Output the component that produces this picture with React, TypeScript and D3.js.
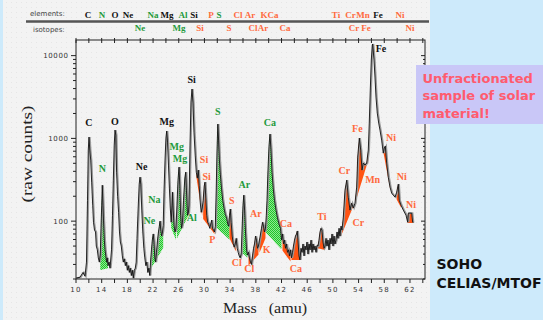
import React from 'react';
import * as d3 from 'd3';

// spectrum trace: mass (amu) and raw counts
const specMass = [
  10.0, 10.62, 11.09, 11.4, 11.63, 11.79, 11.91, 12.02, 12.15, 12.29, 12.44, 12.6, 12.72, 12.88, 13.04, 13.16, 13.32, 13.47, 13.63, 13.78,
  13.89, 14.0, 14.09, 14.2, 14.28, 14.41, 14.52, 14.62, 14.75, 14.86, 14.98, 15.14, 15.29, 15.37, 15.53, 15.68, 15.81, 15.95, 16.07, 16.2,
  16.32, 16.48, 16.63, 16.77, 16.9, 17.05, 17.21, 17.36, 17.52, 17.68, 17.83, 17.99, 18.14, 18.3, 18.45, 18.61, 18.77, 18.92, 19.08, 19.23,
  19.37, 19.5, 19.68, 19.84, 19.96, 20.09, 20.24, 20.4, 20.56, 20.71, 20.87, 21.02, 21.18, 21.33, 21.49, 21.6, 21.75, 21.88, 22.02, 22.14,
  22.27, 22.39, 22.53, 22.69, 22.84, 22.97, 23.08, 23.2, 23.33, 23.47, 23.58, 23.7, 23.86, 24.0, 24.12, 24.25, 24.4, 24.54, 24.68, 24.82,
  24.95, 25.02, 25.13, 25.26, 25.41, 25.57, 25.72, 25.88, 26.04, 26.16, 26.29, 26.43, 26.58, 26.74, 26.94, 27.08, 27.2, 27.36, 27.52, 27.59,
  27.75, 27.9, 28.06, 28.22, 28.37, 28.56, 28.73, 28.89, 29.04, 29.18, 29.34, 29.49, 29.65, 29.8, 29.96, 30.08, 30.21, 30.35, 30.5, 30.66,
  30.82, 30.97, 31.13, 31.25, 31.41, 31.56, 31.69, 31.83, 31.95, 32.08, 32.2, 32.33, 32.47, 32.65, 32.84, 33.04, 33.24, 33.45, 33.63, 33.79,
  33.9, 34.02, 34.16, 34.32, 34.47, 34.63, 34.79, 34.94, 35.1, 35.25, 35.41, 35.56, 35.72, 35.84, 36.0, 36.12, 36.25, 36.39, 36.55, 36.7,
  36.86, 37.01, 37.17, 37.32, 37.48, 37.64, 37.79, 37.95, 38.1, 38.26, 38.41, 38.57, 38.73, 38.88, 39.04, 39.19, 39.35, 39.5, 39.63, 39.74,
  39.89, 40.05, 40.2, 40.36, 40.52, 40.7, 40.9, 41.14, 41.37, 41.61, 41.84, 42.0, 42.15, 42.31, 42.46, 42.62, 42.77, 42.93, 43.09, 43.24,
  43.4, 43.55, 43.71, 43.86, 44.02, 44.17, 44.33, 44.45, 44.56, 44.72, 44.87, 45.03, 45.19, 45.34, 45.5, 45.65, 45.81, 45.96, 46.12, 46.28,
  46.43, 46.59, 46.74, 46.9, 47.05, 47.21, 47.37, 47.52, 47.68, 47.83, 47.99, 48.14, 48.3, 48.46, 48.61, 48.77, 48.92, 49.08, 49.23, 49.39,
  49.55, 49.7, 49.86, 50.01, 50.17, 50.32, 50.48, 50.64, 50.79, 50.95, 51.1, 51.26, 51.41, 51.62, 51.88, 52.15, 52.39, 52.66, 52.92, 53.17,
  53.44, 53.7, 53.86, 54.11, 54.33, 54.53, 54.73, 55.0, 55.26, 55.51, 55.66, 55.82, 55.98, 56.13, 56.19, 56.4, 56.55, 56.71, 56.91, 57.13,
  57.33, 57.59, 57.84, 58.0, 58.16, 58.37, 58.62, 58.89, 59.15, 59.4, 59.67, 59.93, 60.18, 60.33, 60.6, 60.96, 61.38, 61.64, 61.74, 61.89,
  62.27, 62.42, 62.51,
];
const specCounts = [
  20.5, 21, 24, 21.6, 32, 179, 722, 1037, 722, 547, 296, 156, 97, 78, 74, 50, 45, 36, 32, 39,
  82, 156, 272, 156, 103, 59, 45, 39, 32, 36, 29, 32, 27, 32, 45, 118, 313, 830, 1260, 1096,
  391, 200, 128, 74, 56, 50, 38, 32, 35, 29, 32, 25.5, 29, 24, 27, 22, 25.5, 20.5, 25.5, 27,
  32, 62, 144, 280, 340, 280, 136, 74, 47, 36, 29, 32, 24, 27, 22, 32, 45, 59, 70, 56,
  36, 32, 42, 59, 74, 87, 100, 78, 66, 74, 89, 224, 547, 1008, 1226, 902, 476, 251, 144, 97,
  156, 224, 136, 89, 74, 82, 156, 313, 450, 272, 118, 82, 97, 179, 331, 391, 237, 118, 128, 156,
  830, 2748, 3946, 2673, 1190, 628, 391, 331, 414, 272, 170, 128, 144, 179, 265, 296, 190, 118, 97, 92,
  82, 92, 103, 82, 78, 74, 87, 237, 683, 1489, 954, 547, 370, 251, 179, 144, 121, 109, 92, 87,
  118, 140, 97, 66, 54, 48.5, 53, 62, 47, 42, 38, 36, 40, 74, 156, 206, 136, 74, 45, 39,
  42, 36, 32, 30, 38, 47, 53, 66, 59, 47, 50, 59, 70, 82, 97, 87, 74, 82, 118, 179,
  414, 807, 1127, 722, 391, 251, 179, 136, 109, 92, 82, 59, 70, 53, 59, 47, 53, 42, 45, 38,
  45, 36, 42, 50, 59, 66, 70, 76, 59, 38, 34, 47, 42, 53, 38, 50, 45, 56, 40, 53,
  45, 59, 42, 53, 45, 50, 42, 51, 50, 59, 74, 82, 78, 56, 47, 50, 62, 50, 59, 45,
  62, 53, 70, 50, 66, 53, 59, 74, 62, 82, 66, 87, 78, 112, 237, 313, 195, 136, 165, 144,
  165, 258, 594, 1008, 722, 414, 503, 476, 503, 722, 1531, 3837, 8848, 13440, 13820, 8848, 5512, 3158, 2023, 1531,
  1260, 954, 664, 763, 807, 503, 340, 258, 218, 206, 195, 224, 280, 179, 156, 136, 118, 97, 125, 125,
  125, 97, 97,
];

// shaded isotope bands: mass range and the counts of the straight baseline at each end
const bandKind = ['g', 'g', 'g', 'g', 'o', 'o', 'g', 'o', 'g', 'o', 'o', 'g', 'o', 'o', 'o', 'o', 'o', 'o', 'o', 'o'];
const bandFrom = [13.66, 21.52, 24.7, 25.59, 28.73, 29.7, 31.64, 33.9, 35.76, 36.78, 38.49, 39.5, 42.07, 43.47, 47.6, 51.26, 53.7, 57.8, 59.74, 61.64];
const bandTo = [14.98, 23.6, 25.59, 27.59, 29.7, 31.56, 33.97, 35.0, 36.78, 38.49, 39.5, 42.07, 43.47, 44.87, 48.77, 53.7, 55.51, 58.89, 60.91, 62.51];
const bandBase0 = [25.5, 25.5, 87, 59, 350, 109, 87, 62, 42, 28.6, 40, 74, 45, 34, 47, 66, 190, 722, 195, 95];
const bandBase1 = [27, 48, 59, 121, 109, 70, 59, 42, 36, 40, 62, 45, 32, 34, 45, 190, 547, 251, 132, 95];

// peak labels inside the plot
const peakText = ['C', 'O', 'N', 'Ne', 'Mg', 'Si', 'S', 'Mg', 'Mg', 'Si', 'Si', 'Na', 'Ne', 'Al', 'S', 'P', 'Ar', 'Ar', 'K', 'Ca', 'Ca', 'Ti', 'Cr', 'Fe', 'Mn', 'Cr', 'Fe', 'Ni', 'Ni', 'Ni', 'Cl', 'Cl', 'Ca'];
const peakKind = ['k', 'k', 'g', 'k', 'k', 'k', 'g', 'g', 'g', 'o', 'o', 'g', 'g', 'g', 'o', 'o', 'g', 'o', 'o', 'g', 'o', 'o', 'o', 'o', 'o', 'o', 'k', 'o', 'o', 'o', 'o', 'o', 'o'];
const peakMass = [12.02, 16.07, 14.09, 20.23, 24.12, 28.01, 32.06, 25.68, 26.19, 29.93, 30.35, 22.19, 21.41, 28.01, 34.24, 31.22, 36.2, 38.02, 39.69, 40.2, 42.69, 48.3, 51.77, 53.8, 56.19, 53.95, 57.49, 59.04, 60.71, 62.16, 35.02, 36.98, 44.25];
const peakCounts = [1544, 1618, 434, 454, 1588, 5169, 2138, 807, 573, 557, 350, 183, 103, 110, 179, 60, 280, 124, 45.5, 1561, 94, 113, 406, 1321, 319, 95, 12260, 1028, 343, 159, 32, 26.8, 26.8];

// header rows
const elemText = ['C', 'N', 'O', 'Ne', 'Na', 'Mg', 'Al', 'Si', 'P', 'S', 'Cl', 'Ar', 'K', 'Ca', 'Ti', 'Cr', 'Mn', 'Fe', 'Ni'];
const elemKind = ['k', 'g', 'k', 'k', 'g', 'k', 'g', 'k', 'o', 'g', 'o', 'o', 'o', 'o', 'o', 'o', 'o', 'k', 'o'];
const elemMass = [11.87, 14.05, 16.07, 18.1, 21.99, 24.17, 26.66, 28.37, 31.02, 32.26, 35.22, 37.09, 39.27, 40.67, 50.48, 52.74, 54.68, 57.02, 60.44];
const isoText = ['Ne', 'Mg', 'Si', 'S', 'Cl', 'Ar', 'Ca', 'Cr', 'Fe', 'Ni'];
const isoKind = ['g', 'g', 'o', 'o', 'o', 'o', 'o', 'o', 'o', 'o'];
const isoMass = [19.96, 26.04, 29.31, 33.82, 37.56, 39.11, 42.54, 53.28, 55.15, 62.0];

const xTicks = d3.range(10, 65, 2);
const xTickLabels = d3.range(10, 63, 4);
const yTickLabels = [100, 1000, 10000];

const textColor: Record<string, string> = { k: '#111', g: '#1f9a3c', o: '#ff6a3d' };

export default function App() {
  const x = d3.scaleLinear().domain([10, 64.34]).range([76, 425]);
  const y = d3.scaleLog().domain([20, 15450]).range([279, 40]);

  const pts: [number, number][] = specMass.map((m, i) => [m, specCounts[i]]);
  const line = d3.line<[number, number]>().x(d => x(d[0])).y(d => y(d[1]));

  const bands = bandKind.map((k, i) => {
    const b0 = y(bandBase0[i]), b1 = y(bandBase1[i]);
    const base = (m: number) => b0 + (b1 - b0) * (m - bandFrom[i]) / (bandTo[i] - bandFrom[i]);
    const sub = pts.filter(p => p[0] >= bandFrom[i] && p[0] <= bandTo[i]);
    const area = d3.area<[number, number]>()
      .x(d => x(d[0]))
      .y0(d => base(d[0]))
      .y1(d => Math.min(y(d[1]), base(d[0])));
    return <path key={i} d={area(sub) || ''} fill={k === 'g' ? 'url(#hatch)' : '#ff5312'} />;
  });

  const yTicks = y.ticks();
  const isMajor = (v: number) => Math.abs(Math.log10(v) - Math.round(Math.log10(v))) < 1e-6;

  return (
    <svg width={543} height={320} style={{ position: 'fixed', left: 0, top: 0 }}>
      <defs>
        <pattern id="hatch" width="2" height="2" patternUnits="userSpaceOnUse">
          <rect width="2" height="2" fill="#8fe88f" />
          <rect width="1" height="1" fill="#1fc42c" />
          <rect x="1" y="1" width="1" height="1" fill="#1fc42c" />
        </pattern>
        <pattern id="paper" width="5" height="5" patternUnits="userSpaceOnUse">
          <rect width="5" height="5" fill="#f3f3f3" />
          <rect x="1" y="2" width="1" height="1" fill="#e6e6e6" />
        </pattern>
      </defs>
      <rect width={543} height={320} fill="#cdeafb" />
      <rect x={3} y={0} width={427} height={320} fill="url(#paper)" />

      {/* header */}
      <line x1={26} x2={429} y1={21.5} y2={21.5} stroke="#555" strokeWidth={2.6} />
      <text x={30} y={16} fontFamily="DejaVu Sans" fontSize={7} fill="#444">elements:</text>
      <text x={33} y={31.5} fontFamily="DejaVu Sans" fontSize={7} fill="#444">isotopes:</text>
      {elemText.map((t, i) => (
        <text key={'e' + i} x={x(elemMass[i])} y={17.5} textAnchor="middle" fontFamily="Liberation Serif" fontWeight="bold" fontSize={9} fill={textColor[elemKind[i]]}>{t}</text>
      ))}
      {isoText.map((t, i) => (
        <text key={'i' + i} x={x(isoMass[i])} y={30.5} textAnchor="middle" fontFamily="Liberation Serif" fontWeight="bold" fontSize={9} fill={textColor[isoKind[i]]}>{t}</text>
      ))}

      {/* fills and spectrum */}
      {bands}
      <path d={line(pts) || ''} fill="none" stroke="#999" strokeWidth={1.6} transform="translate(0.9,0)" />
      <path d={line(pts) || ''} fill="none" stroke="#111" strokeWidth={0.9} />

      {/* frame and ticks */}
      <rect x={76} y={40} width={349} height={239} fill="none" stroke="#222" strokeWidth={1} />
      {xTicks.map(v => (
        <g key={'x' + v}>
          <line x1={x(v)} x2={x(v)} y1={279} y2={283} stroke="#222" />
          <line x1={x(v)} x2={x(v)} y1={38} y2={43} stroke="#222" />
        </g>
      ))}
      {xTickLabels.map(v => (
        <text key={'xl' + v} x={x(v)} y={292} textAnchor="middle" fontFamily="DejaVu Sans" fontSize={7} letterSpacing={1.2} fill="#333">{v}</text>
      ))}
      {yTicks.map(v => (
        <g key={'y' + v}>
          <line x1={isMajor(v) ? 71 : 73} x2={76} y1={y(v)} y2={y(v)} stroke="#222" />
          <line x1={425} x2={isMajor(v) ? 421 : 423} y1={y(v)} y2={y(v)} stroke="#222" />
        </g>
      ))}
      {yTickLabels.map(v => (
        <text key={'yl' + v} x={68.5} y={y(v) + 2.5} textAnchor="end" fontFamily="DejaVu Sans" fontSize={7} letterSpacing={0.6} fill="#333">{v}</text>
      ))}

      {/* peak labels */}
      {peakText.map((t, i) => (
        <text key={'p' + i} x={x(peakMass[i])} y={y(peakCounts[i])} dy="0.35em" textAnchor="middle" fontFamily="Liberation Serif" fontWeight="bold" fontSize={10} fill={textColor[peakKind[i]]}>{t}</text>
      ))}

      {/* axis titles */}
      <text x={265} y={313} textAnchor="middle" fontFamily="Liberation Serif" fontSize={15} fill="#222" textLength={84} lengthAdjust="spacingAndGlyphs" style={{ whiteSpace: 'pre' }}>{'Mass   (amu)'}</text>
      <text transform="translate(32,154) rotate(-90)" textAnchor="middle" fontFamily="Liberation Serif" fontSize={14} fill="#222" textLength={97} lengthAdjust="spacingAndGlyphs">(raw counts)</text>

      {/* side notes */}
      <rect x={416} y={65} width={127} height={59} fill="#c9c7f7" />
      <g fontFamily="DejaVu Sans" fontWeight="bold" fontSize={13} fill="#ff5b6e">
        <text x={422.5} y={82.5}>Unfractionated</text>
        <text x={422.5} y={100}>sample of solar</text>
        <text x={422.5} y={117.5}>material!</text>
      </g>
      <g fontFamily="DejaVu Sans" fontWeight="bold" fontSize={14} fill="#111">
        <text x={436.5} y={269}>SOHO</text>
        <text x={436.5} y={287.5}>CELIAS/MTOF</text>
      </g>
    </svg>
  );
}
